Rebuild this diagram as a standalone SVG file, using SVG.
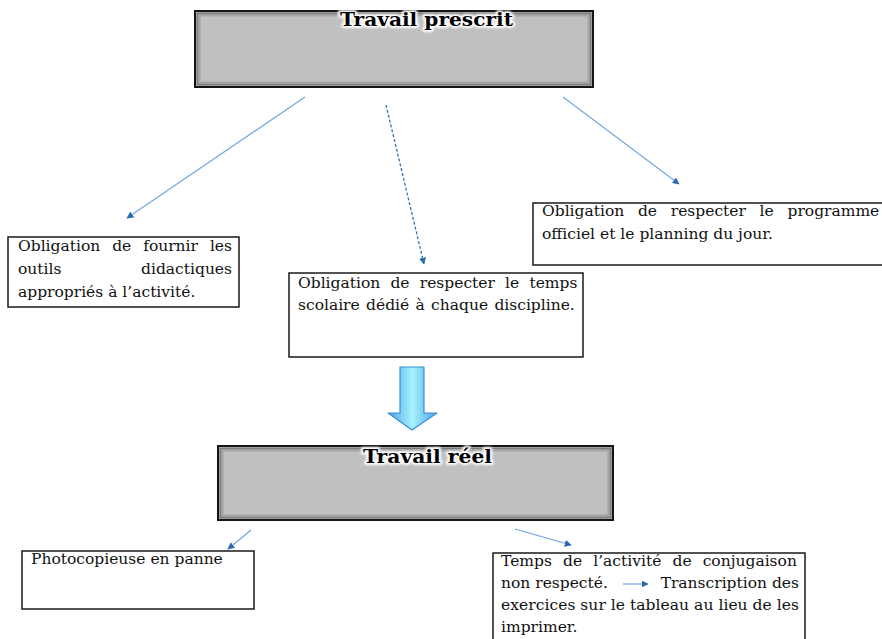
<svg xmlns="http://www.w3.org/2000/svg" width="882" height="639" viewBox="0 0 882 639">
<style>
.box{fill:#fff;stroke:#1a1a1a;stroke-width:1.5}
.hdr{fill:#c0c0c0;stroke:#141414;stroke-width:2}
.in1{fill:none;stroke:#7c7c7c;stroke-width:2}
.in2{fill:none;stroke:#a4a4a4;stroke-width:2}
.t{font-family:"DejaVu Serif","Liberation Serif",serif;font-size:15.5px;fill:#111}
.title{font-family:"DejaVu Serif","Liberation Serif",serif;font-size:18px;font-weight:bold;fill:#000}
.glow{fill:#fff;stroke:#fff;stroke-width:4;stroke-linejoin:round}
.con{stroke:#6fa6e2;stroke-width:1.2;fill:none}
.dash{stroke:#2f72b8;stroke-width:1.3;stroke-dasharray:3 2;fill:none}
</style>
<defs>
<marker id="ah" viewBox="0 0 10 10" refX="9" refY="5" markerWidth="7" markerHeight="7" markerUnits="userSpaceOnUse" orient="auto">
<path d="M0,0 L10,5 L0,10 z" fill="#2a6bb0"/>
</marker>
<filter id="blur" x="-10%" y="-50%" width="120%" height="200%"><feGaussianBlur stdDeviation="1.2"/></filter>
<linearGradient id="bg" x1="0" y1="0" x2="1" y2="0">
<stop offset="0" stop-color="#4aa3e6"/>
<stop offset="0.5" stop-color="#a6f2ff"/>
<stop offset="1" stop-color="#4aa3e6"/>
</linearGradient>
</defs>
<rect width="882" height="639" fill="#fff"/>

<g id="travail-prescrit">
<rect class="hdr" x="195" y="11" width="398" height="76"/>
<rect class="in1" x="197.5" y="13.5" width="393" height="71"/>
<rect class="in2" x="199.5" y="15.5" width="389" height="67"/>
<text class="title glow" x="340" y="26" textLength="173" lengthAdjust="spacingAndGlyphs" filter="url(#blur)">Travail prescrit</text>
<text class="title" x="340" y="26" textLength="173" lengthAdjust="spacingAndGlyphs">Travail prescrit</text>
</g>

<g id="outils">
<rect class="box" x="8" y="237" width="231" height="70"/>
<text class="t" x="18" y="251" word-spacing="7">Obligation de fournir les</text>
<text class="t" x="18" y="274">outils</text>
<text class="t" x="232" y="274" text-anchor="end">didactiques</text>
<text class="t" x="18" y="297">appropriés à l’activité.</text>
</g>

<g id="temps-scolaire">
<rect class="box" x="289" y="273" width="294" height="84"/>
<text class="t" x="298" y="288" word-spacing="5.3">Obligation de respecter le temps</text>
<text class="t" x="298" y="310" word-spacing="1.4">scolaire dédié à chaque discipline.</text>
</g>

<g id="programme">
<rect class="box" x="533" y="203" width="352" height="62"/>
<text class="t" x="542" y="216" word-spacing="8.8">Obligation de respecter le programme</text>
<text class="t" x="542" y="239">officiel et le planning du jour.</text>
</g>

<g id="fleche-bloc">
<path d="M400,367 L424,367 L424,413 L437,413 L412,430 L388,413 L400,413 Z" fill="url(#bg)" stroke="#3a8ed4" stroke-width="1.2" stroke-linejoin="round"/>
</g>

<g id="travail-reel">
<rect class="hdr" x="218" y="446" width="395" height="74"/>
<rect class="in1" x="220.5" y="448.5" width="390" height="69"/>
<rect class="in2" x="222.5" y="450.5" width="386" height="65"/>
<text class="title glow" x="363" y="463" textLength="129" lengthAdjust="spacingAndGlyphs" filter="url(#blur)">Travail réel</text>
<text class="title" x="363" y="463" textLength="129" lengthAdjust="spacingAndGlyphs">Travail réel</text>
</g>

<g id="photocopieuse">
<rect class="box" x="22" y="551" width="232" height="58"/>
<text class="t" x="31" y="564">Photocopieuse en panne</text>
</g>

<g id="conjugaison">
<rect class="box" x="493" y="553" width="312" height="95"/>
<text class="t" x="501" y="566" word-spacing="6.2">Temps de l’activité de conjugaison</text>
<text class="t" x="501" y="588">non respecté.</text>
<line class="con" x1="623" y1="584" x2="648" y2="584" marker-end="url(#ah)"/>
<text class="t" x="799" y="588" text-anchor="end">Transcription des</text>
<text class="t" x="501" y="610" textLength="298" lengthAdjust="spacing">exercices sur le tableau au lieu de les</text>
<text class="t" x="501" y="632">imprimer.</text>
</g>

<g id="connecteurs">
<line class="con" x1="305" y1="97" x2="127" y2="218" marker-end="url(#ah)"/>
<line class="dash" x1="386" y1="105" x2="424" y2="264" marker-end="url(#ah)"/>
<line class="con" x1="563" y1="97" x2="679" y2="184" marker-end="url(#ah)"/>
<line class="con" x1="251" y1="530" x2="228" y2="549" marker-end="url(#ah)"/>
<line class="con" x1="515" y1="529" x2="571" y2="545" marker-end="url(#ah)"/>
</g>
</svg>
